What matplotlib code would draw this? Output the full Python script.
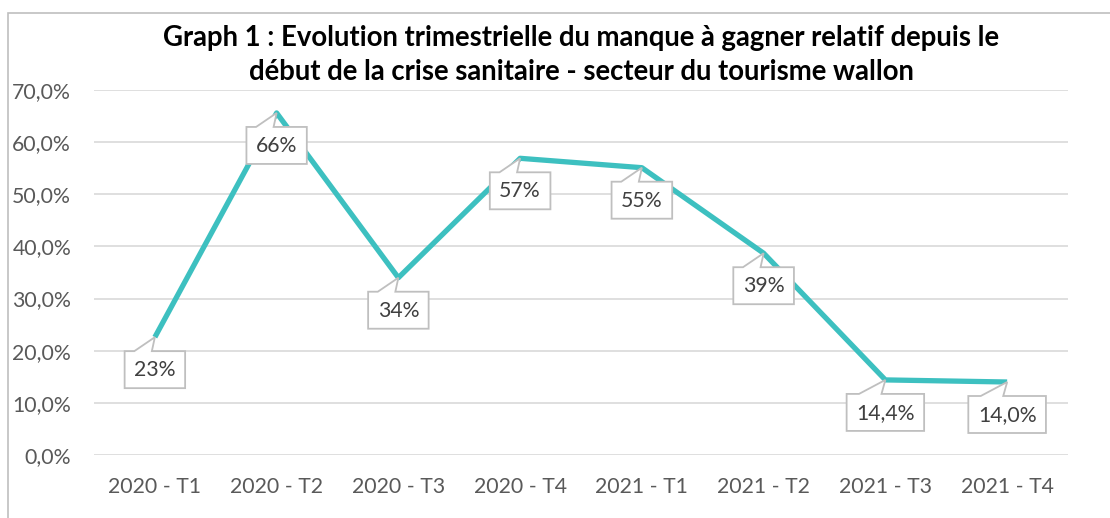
import matplotlib
matplotlib.use("Agg")
import matplotlib.pyplot as plt
from matplotlib.patches import Polygon, Rectangle
import matplotlib.transforms as mtransforms

plt.rcParams['font.family'] = ['Lato', 'DejaVu Sans']

categories = ["2020 - T1", "2020 - T2", "2020 - T3", "2020 - T4",
              "2021 - T1", "2021 - T2", "2021 - T3", "2021 - T4"]
values = [22.6, 65.6, 34.0, 56.9, 55.1, 38.7, 14.4, 14.0]
value_labels = ["23%", "66%", "34%", "57%", "55%", "39%", "14,4%", "14,0%"]
y_ticks = [0, 10, 20, 30, 40, 50, 60, 70]
title_lines = ["Graph 1 : Evolution trimestrielle du manque à gagner relatif depuis le",
               "début de la crise sanitaire - secteur du tourisme wallon"]

W, H = 1110, 518
fig = plt.figure(figsize=(W / 100, H / 100), dpi=100)
fig.patch.set_facecolor('white')

# outer chart border
fig.add_artist(Rectangle((8 / W, -0.1), 1.2, (H - 13) / H + 0.1, transform=fig.transFigure,
                         fill=False, edgecolor='#BFBFBF', lw=1.2))

ax = fig.add_axes([94 / W, (H - 455) / H, 974 / W, 365 / H])
ax.set_xlim(-0.5, len(categories) - 0.5)
ax.set_ylim(0, 70)
for s in ax.spines.values():
    s.set_visible(False)
ax.set_yticks(y_ticks)
ax.set_yticklabels([f"{v:.1f}%".replace('.', ',') for v in y_ticks])
ax.set_xticks(range(len(categories)))
ax.set_xticklabels(categories)
ax.tick_params(length=0, labelsize=15.3, colors='#595959')
ax.tick_params(axis='y', pad=16.5)
ax.tick_params(axis='x', pad=15.5)
ax.grid(axis='y', color='#D9D9D9', lw=1.2)
ax.set_axisbelow(True)

ax.plot(range(len(values)), values, color='#3DC0C0', lw=3.8, solid_capstyle='butt', zorder=2)

fig.text(581 / W, 1 - 38 / H, title_lines[0], ha='center', va='center',
         fontsize=19.8, fontweight='bold', color='black')
fig.text(581 / W, 1 - 72 / H, title_lines[1], ha='center', va='center',
         fontsize=19.8, fontweight='bold', color='black')

renderer = fig.canvas.get_renderer()
for i, (v, lab) in enumerate(zip(values, value_labels)):
    px, py = ax.transData.transform((i, v))
    cy = py - 33
    t = ax.text(px, cy, lab, transform=mtransforms.IdentityTransform(), ha='center', va='center',
                fontsize=15.3, color='#404040', zorder=6, clip_on=False)
    tw = t.get_window_extent(renderer).width
    w = tw + 19
    h = 37
    L, R = px - w / 2, px + w / 2
    T, B = py - 14, py - 14 - h
    xa, xb = L + 0.16 * w, L + 0.45 * w
    poly = Polygon([(L, T), (xa, T), (px, py), (xb, T), (R, T), (R, B), (L, B)], closed=True,
                   transform=mtransforms.IdentityTransform(), facecolor='white',
                   edgecolor='#BFBFBF', lw=1.3, zorder=5, clip_on=False)
    ax.add_patch(poly)

ax.set_xlim(-0.5, len(categories) - 0.5)
ax.set_ylim(0, 70)
fig.savefig("out.png", dpi=100)
